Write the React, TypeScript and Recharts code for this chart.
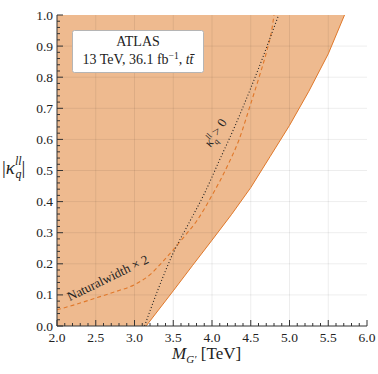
import { Area, ComposedChart, Line, ReferenceDot, ReferenceLine, XAxis, YAxis } from "recharts";

// exclusion boundary (solid orange), M_G' in TeV vs |kappa|
const boundaryMass = [3.15, 3.5, 3.75, 4.0, 4.25, 4.5, 4.75, 5.0, 5.25, 5.5, 5.71];
const boundaryKappa = [0, 0.113, 0.195, 0.276, 0.358, 0.445, 0.545, 0.645, 0.755, 0.875, 1.0];

// natural width x 2 (dashed orange)
const naturalWidthMass = [2.0, 2.25, 2.5, 2.75, 3.0, 3.2, 3.35, 3.5, 3.65, 3.8, 4.0, 4.2, 4.35, 4.5, 4.62, 4.71, 4.77, 4.8];
const naturalWidthKappa = [0.052, 0.07, 0.09, 0.11, 0.133, 0.165, 0.203, 0.245, 0.29, 0.337, 0.42, 0.515, 0.6, 0.715, 0.81, 0.887, 0.95, 1.0];

// kappa > 0 (dotted black)
const positiveMass = [3.13, 3.3, 3.5, 3.7, 3.9, 4.1, 4.3, 4.5, 4.65, 4.77, 4.86];
const positiveKappa = [0, 0.115, 0.235, 0.33, 0.425, 0.535, 0.645, 0.765, 0.86, 0.94, 1.0];

// excluded region starts at the left edge
const fillStartMass = [2.0];

const xMajorTicks = [2.0, 2.5, 3.0, 3.5, 4.0, 4.5, 5.0, 5.5, 6.0];
const xMinorTicks = [
  2.1, 2.2, 2.3, 2.4, 2.6, 2.7, 2.8, 2.9, 3.1, 3.2, 3.3, 3.4, 3.6, 3.7, 3.8, 3.9,
  4.1, 4.2, 4.3, 4.4, 4.6, 4.7, 4.8, 4.9, 5.1, 5.2, 5.3, 5.4, 5.6, 5.7, 5.8, 5.9,
];
const yMajorTicks = [0.0, 0.1, 0.2, 0.3, 0.4, 0.5, 0.6, 0.7, 0.8, 0.9, 1.0];
const yMinorTicks = [
  0.02, 0.04, 0.06, 0.08, 0.12, 0.14, 0.16, 0.18, 0.22, 0.24, 0.26, 0.28,
  0.32, 0.34, 0.36, 0.38, 0.42, 0.44, 0.46, 0.48, 0.52, 0.54, 0.56, 0.58,
  0.62, 0.64, 0.66, 0.68, 0.72, 0.74, 0.76, 0.78, 0.82, 0.84, 0.86, 0.88,
  0.92, 0.94, 0.96, 0.98,
];

const ORANGE = "#e0782a";
const FILL = "#eeba8f";
const FRAME = "#333";
const FONT = "'Liberation Serif', serif";
const serif = { fontFamily: FONT };

type Row = { m: number; band?: number[]; boundary?: number; natural?: number; positive?: number };

function buildRows(): Row[] {
  const map = new Map<number, Row>();
  const get = (m: number) => {
    if (!map.has(m)) map.set(m, { m });
    return map.get(m)!;
  };
  fillStartMass.forEach((m) => (get(m).band = [0, 1]));
  boundaryMass.forEach((m, i) => {
    get(m).boundary = boundaryKappa[i];
    get(m).band = [boundaryKappa[i], 1];
  });
  naturalWidthMass.forEach((m, i) => (get(m).natural = naturalWidthKappa[i]));
  positiveMass.forEach((m, i) => (get(m).positive = positiveKappa[i]));
  return [...map.values()].sort((a, b) => a.m - b.m);
}

const rows = buildRows();

const isIn = (v: number, arr: number[]) => arr.some((t) => Math.abs(t - v) < 1e-6);
const xTicks = [...xMajorTicks, ...xMinorTicks].sort((a, b) => a - b);
const yTicks = [...yMajorTicks, ...yMinorTicks].sort((a, b) => a - b);

const BottomTick = (props: any) => {
  const { x, y, payload } = props;
  const major = isIn(payload.value, xMajorTicks);
  return (
    <g>
      <line x1={x} x2={x} y1={y} y2={y - (major ? 6 : 3)} stroke={FRAME} />
      {major && (
        <text x={x} y={y + 16} textAnchor="middle" fontSize={13.5} style={serif} fill="#222">
          {payload.value.toFixed(1)}
        </text>
      )}
    </g>
  );
};

const TopTick = (props: any) => {
  const { x, y, payload } = props;
  const major = isIn(payload.value, xMajorTicks);
  return <line x1={x} x2={x} y1={y} y2={y + (major ? 6 : 3)} stroke={FRAME} />;
};

const LeftTick = (props: any) => {
  const { x, y, payload } = props;
  const major = isIn(payload.value, yMajorTicks);
  return (
    <g>
      <line x1={x} x2={x + (major ? 6 : 3)} y1={y} y2={y} stroke={FRAME} />
      {major && (
        <text x={x - 4} y={y + 4.5} textAnchor="end" fontSize={13.5} style={serif} fill="#222">
          {payload.value.toFixed(1)}
        </text>
      )}
    </g>
  );
};

const RightTick = (props: any) => {
  const { x, y, payload } = props;
  const major = isIn(payload.value, yMajorTicks);
  return <line x1={x} x2={x - (major ? 6 : 3)} y1={y} y2={y} stroke={FRAME} />;
};

const NaturalLabel = (props: any) => {
  const { cx, cy } = props;
  return (
    <text x={cx} y={cy} textAnchor="middle" fontSize={13} style={serif} fill="#222" transform={`rotate(-26 ${cx} ${cy})`}>
      Naturalwidth × 2
    </text>
  );
};

const PositiveLabel = (props: any) => {
  const { cx, cy } = props;
  return (
    <text x={cx} y={cy} textAnchor="middle" fontSize={13} style={serif} fill="#222" transform={`rotate(-57 ${cx} ${cy})`}>
      <tspan fontStyle="italic">κ</tspan>
      <tspan fontStyle="italic" fontSize={8.5} dy={-5}>ll</tspan>
      <tspan fontStyle="italic" fontSize={8.5} dx={-5} dy={9}>q</tspan>
      <tspan dy={-4}> &gt; 0</tspan>
    </text>
  );
};

export default function App() {
  return (
    <div style={{ position: "absolute", left: 0, top: 0, width: 378, height: 374, background: "#fff" }}>
      <ComposedChart width={378} height={374} data={rows} margin={{ top: 15, right: 11, bottom: 0, left: 0 }}>
        <XAxis
          dataKey="m"
          type="number"
          domain={[2, 6]}
          allowDataOverflow
          ticks={xTicks}
          interval={0}
          height={48}
          tickSize={0}
          tickMargin={0}
          tickLine={false}
          axisLine={{ stroke: FRAME }}
          tick={<BottomTick />}
        />
        <XAxis
          xAxisId="top"
          orientation="top"
          dataKey="m"
          type="number"
          domain={[2, 6]}
          allowDataOverflow
          ticks={xTicks}
          interval={0}
          height={0}
          tickSize={0}
          tickMargin={0}
          tickLine={false}
          axisLine={{ stroke: FRAME }}
          tick={<TopTick />}
        />
        <YAxis
          type="number"
          domain={[0, 1]}
          allowDataOverflow
          ticks={yTicks}
          interval={0}
          width={57}
          tickSize={0}
          tickMargin={0}
          tickLine={false}
          axisLine={{ stroke: FRAME }}
          tick={<LeftTick />}
        />
        <YAxis
          yAxisId="right"
          orientation="right"
          type="number"
          domain={[0, 1]}
          allowDataOverflow
          ticks={yTicks}
          interval={0}
          width={0}
          tickSize={0}
          tickMargin={0}
          tickLine={false}
          axisLine={{ stroke: FRAME }}
          tick={<RightTick />}
        />
        <Area
          dataKey="band"
          type="linear"
          fill={FILL}
          fillOpacity={1}
          stroke="none"
          connectNulls
          isAnimationActive={false}
        />
        {xMajorTicks.slice(1, -1).map((v) => (
          <ReferenceLine key={`gx${v}`} x={v} stroke="#000" strokeOpacity={0.07} />
        ))}
        {yMajorTicks.slice(1, -1).map((v) => (
          <ReferenceLine key={`gy${v}`} y={v} stroke="#000" strokeOpacity={0.07} />
        ))}
        <Line dataKey="boundary" type="linear" stroke={ORANGE} strokeWidth={1} dot={false} connectNulls isAnimationActive={false} />
        <Line
          dataKey="natural"
          type="monotone"
          stroke={ORANGE}
          strokeWidth={1.1}
          strokeDasharray="4 3"
          dot={false}
          connectNulls
          isAnimationActive={false}
        />
        <Line
          dataKey="positive"
          type="monotone"
          stroke="#222"
          strokeWidth={1.1}
          strokeDasharray="1 2.2"
          dot={false}
          connectNulls
          isAnimationActive={false}
        />
        <ReferenceDot x={2.68} y={0.142} r={1} shape={<NaturalLabel />} />
        <ReferenceDot x={4.09} y={0.614} r={1} shape={<PositiveLabel />} />
      </ComposedChart>
      <svg width={378} height={374} style={{ position: "absolute", left: 0, top: 0, pointerEvents: "none" }}>
        <g style={serif} fill="#222">
          <rect x={72.5} y={30.5} width={131} height={42} rx={2} fill="#fff" stroke="#b5b5b5" />
          <text x={138} y={46} textAnchor="middle" fontSize={14}>ATLAS</text>
          <text x={138} y={64} textAnchor="middle" fontSize={14}>
            13 TeV, 36.1 fb
            <tspan fontSize={9.5} dy={-5}>−1</tspan>
            <tspan dy={5}>, </tspan>
            <tspan fontStyle="italic">t{"t\u0304"}</tspan>
          </text>
          <text x={2} y={174} fontSize={19}>
            |<tspan fontStyle="italic">κ</tspan>
            <tspan fontStyle="italic" fontSize={12} dy={-9}>ll</tspan>
            <tspan fontStyle="italic" fontSize={12} dx={-6} dy={13}>q</tspan>
            <tspan dy={-4}>|</tspan>
          </text>
          <text x={172} y={359} fontSize={17}>
            <tspan fontStyle="italic">M</tspan>
            <tspan fontStyle="italic" fontSize={11} dy={4}>G′</tspan>
            <tspan dy={-4}> [TeV]</tspan>
          </text>
        </g>
      </svg>
    </div>
  );
}
